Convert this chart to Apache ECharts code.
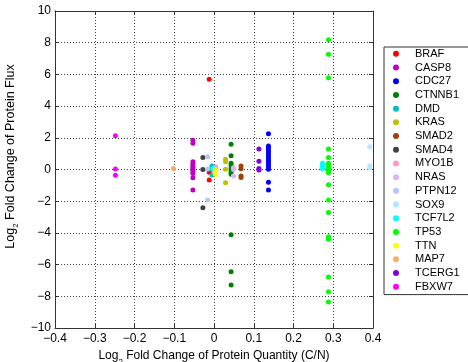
<!DOCTYPE html>
<html><head><meta charset="utf-8">
<script src="https://cdn.jsdelivr.net/npm/echarts@6/dist/echarts.min.js"></script>
<style>html,body{margin:0;padding:0;background:#fff}#c{width:468px;height:362px}</style>
</head><body><div id="c"></div>
<script>
const genes = ['BRAF','CASP8','CDC27','CTNNB1','DMD','KRAS','SMAD2','SMAD4','MYO1B','NRAS','PTPN12','SOX9','TCF7L2','TP53','TTN','MAP7','TCERG1','FBXW7'];
const colors = ['#ff0000','#c000c0','#0000ff','#008000','#00bfbf','#bfbf00','#a0400a','#404040','#ff99cc','#d9b3ff','#b3c6ff','#b3e6ff','#00ffff','#00ff00','#ffff00','#ffaa66','#8000e0','#ff00ff'];
const xTicks = [-0.4,-0.3,-0.2,-0.1,0,0.1,0.2,0.3,0.4];
const yTicks = [-10,-8,-6,-4,-2,0,2,4,6,8,10];

const BRAF   = [[-0.012,5.69],[-0.012,-0.18],[-0.012,-0.66]];
const CASP8  = [[-0.053,1.85],[-0.053,1.65],[-0.053,0.49],[-0.053,0.36],[-0.053,0.24],[-0.053,0.12],[-0.053,0.0],[-0.053,-0.12],[-0.053,-0.26],[-0.053,-0.52],[-0.053,-1.29]];
const CDC27  = [[0.137,2.26],[0.137,1.48],[0.137,1.34],[0.137,1.19],[0.137,1.04],[0.137,0.89],[0.137,0.74],[0.137,0.59],[0.137,0.44],[0.137,0.30],[0.137,0.15],[0.137,0.01],[0.137,-0.81],[0.137,-1.29]];
const CTNNB1 = [[0.043,1.59],[0.043,0.87],[0.043,0.40],[0.043,0.25],[0.043,0.10],[0.043,-0.05],[0.043,-0.20],[0.043,-0.30],[0.043,-4.11],[0.043,-6.45],[0.043,-7.29]];
const DMD    = [[-0.005,0.22],[-0.005,0.02],[-0.005,-0.35]];
const KRAS   = [[0.029,0.64],[0.029,0.49],[0.029,0.01],[0.029,-0.83]];
const SMAD2  = [[0.068,0.22],[0.068,0.04],[0.068,-0.41],[0.068,-0.50]];
const SMAD4  = [[-0.028,0.75],[-0.028,0.0],[-0.028,-2.41]];
const MYO1B  = [[0.004,0.18],[0.004,0.08]];
const NRAS   = [[0.049,0.11],[0.049,0.0],[0.049,-0.41]];
const PTPN12 = [[-0.016,0.81],[-0.016,0.03],[-0.016,-1.92]];
const SOX9   = [[0.392,1.44],[0.392,0.24],[0.392,0.10]];
const TCF7L2 = [[-0.002,0.10],[-0.002,0.0],[0.273,0.40],[0.273,0.28],[0.273,0.16],[0.273,0.05]];
const TP53   = [[0.288,8.19],[0.288,7.27],[0.288,5.79],[0.288,1.29],[0.288,0.75],[0.288,0.39],[0.288,0.24],[0.288,0.07],[0.288,-0.08],[0.288,-0.20],[0.288,-0.96],[0.288,-1.92],[0.288,-2.72],[0.288,-4.24],[0.288,-4.32],[0.288,-4.40],[0.288,-6.78],[0.288,-7.71],[0.288,-8.36]];
const TTN    = [[0.003,0.0],[0.003,-0.30]];
const MAP7   = [[-0.102,0.07]];
const TCERG1 = [[0.113,1.29],[0.113,0.52],[0.113,0.07],[0.113,-0.03]];
const FBXW7  = [[-0.248,2.13],[-0.248,0.03],[-0.248,-0.37]];
const allData = [BRAF,CASP8,CDC27,CTNNB1,DMD,KRAS,SMAD2,SMAD4,MYO1B,NRAS,PTPN12,SOX9,TCF7L2,TP53,TTN,MAP7,TCERG1,FBXW7];

const FONT = 'Liberation Sans, Arial, Helvetica, sans-serif';
const fmt = v => String(Math.round(v*10)/10).replace('-', '\u2212');
const axisCol = '#333';
const gridLine = {show:true, lineStyle:{color:'#444', type:[1,2], width:1}};
const tickIn = {show:true, inside:true, length:4, lineStyle:{color:axisCol}};
const chart = echarts.init(document.getElementById('c'), null, {renderer:'canvas'});
chart.setOption({
  animation:false,
  backgroundColor:'#fff',
  textStyle:{fontFamily:FONT},
  grid:{left:55, right:95, top:11, bottom:34, containLabel:false, outerBoundsMode:'none'},
  xAxis:[{
    type:'value', min:-0.4, max:0.4, interval:0.1,
    axisLine:{show:true, onZero:false, lineStyle:{color:axisCol}},
    axisTick:tickIn, splitLine:gridLine,
    axisLabel:{color:'#000', fontSize:12, margin:5, fontFamily:FONT, formatter:fmt, showMinLabel:true, showMaxLabel:true},
    name:'{a|Log}{s|2}{a| Fold Change of Protein Quantity (C/N)}',
    nameLocation:'middle', nameGap:16,
    nameTextStyle:{rich:{a:{fontSize:12, color:'#000', fontFamily:FONT, lineHeight:16, verticalAlign:'top'}, s:{fontSize:8, color:'#000', fontFamily:FONT, lineHeight:8, verticalAlign:'bottom'}}}
  },{
    type:'value', position:'top', min:-0.4, max:0.4, interval:0.1,
    axisLine:{show:true, onZero:false, lineStyle:{color:axisCol}},
    axisTick:tickIn, axisLabel:{show:false}, splitLine:{show:false}
  }],
  yAxis:[{
    type:'value', min:-10, max:10, interval:2,
    axisLine:{show:true, onZero:false, lineStyle:{color:axisCol}},
    axisTick:tickIn, splitLine:gridLine,
    axisLabel:{color:'#000', fontSize:12, margin:4, fontFamily:FONT, formatter:fmt},
    name:'{a|Log}{s|2}{a| Fold Change of Protein Flux}',
    nameLocation:'middle', nameGap:32,
    nameTextStyle:{padding:[0,0,0,26], rich:{a:{fontSize:12.5, color:'#000', fontFamily:FONT, lineHeight:16, verticalAlign:'top'}, s:{fontSize:8, color:'#000', fontFamily:FONT, lineHeight:8, verticalAlign:'bottom'}}}
  },{
    type:'value', position:'right', min:-10, max:10, interval:2,
    axisLine:{show:true, onZero:false, lineStyle:{color:axisCol}},
    axisTick:tickIn, axisLabel:{show:false}, splitLine:{show:false}
  }],
  legend:{
    orient:'vertical', left:384, top:47,
    data:genes, icon:'circle', itemWidth:28, itemHeight:6, itemGap:0,
    padding:[0,20,1,9], borderColor:'#333', borderWidth:1, backgroundColor:'#fff',
    textStyle:{fontSize:11, color:'#000', lineHeight:13.7, fontFamily:FONT}
  },
  series: genes.map((g,i)=>({
    name:g, type:'scatter', xAxisIndex:0, yAxisIndex:0,
    data:allData[i], symbol:'circle', symbolSize:5,
    itemStyle:{color:colors[i], opacity:1}
  }))
});
</script></body></html>
